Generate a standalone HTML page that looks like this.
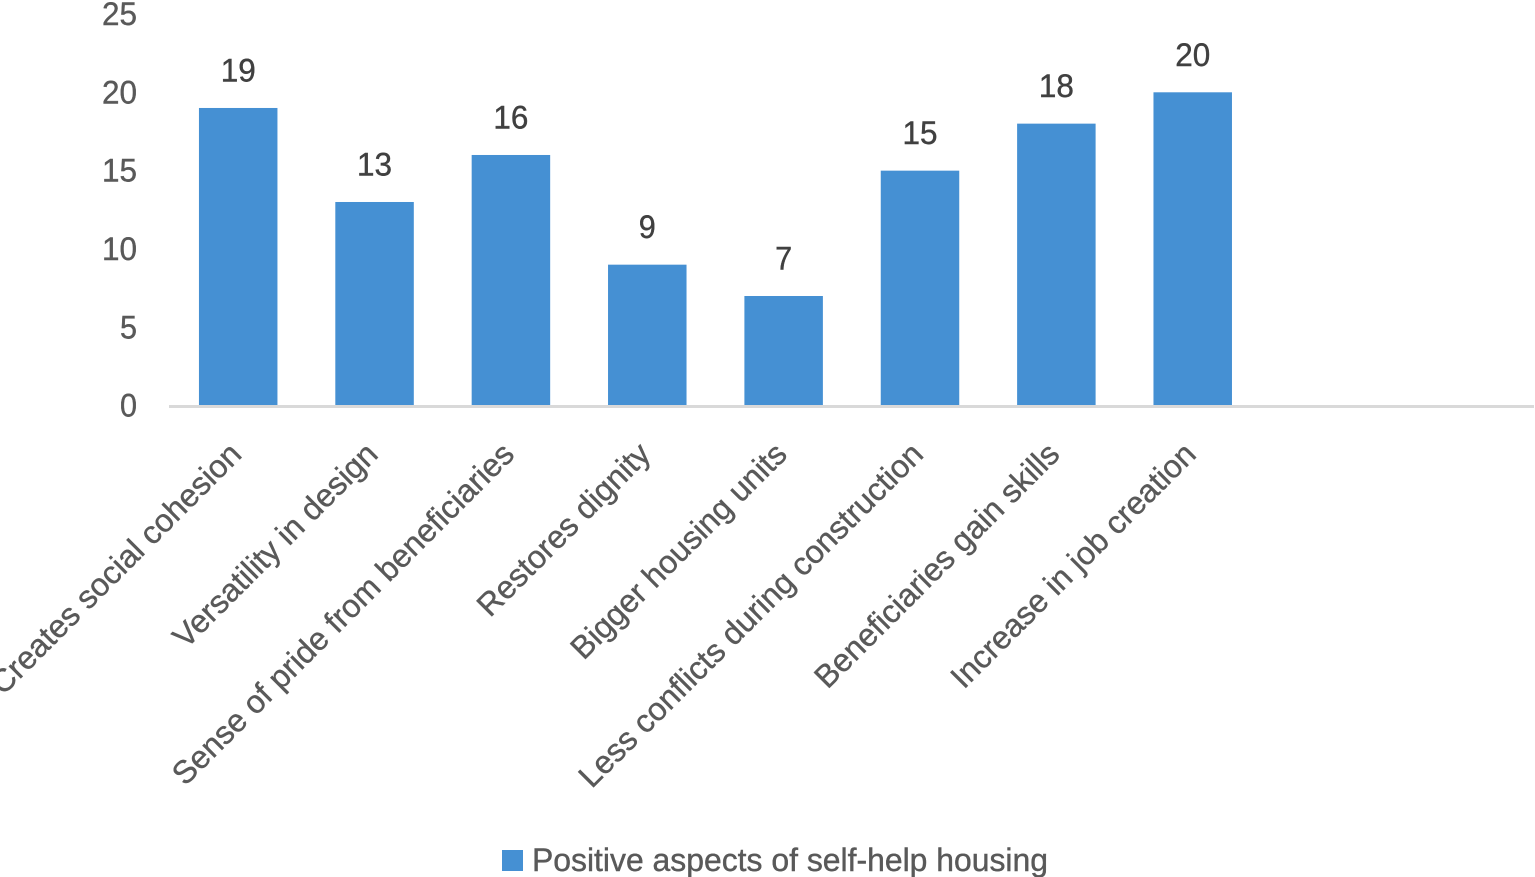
<!DOCTYPE html>
<html lang="en">
<head>
<meta charset="utf-8">
<title>Positive aspects of self-help housing</title>
<style>
html,body{margin:0;padding:0;background:#fff;}
svg{display:block;font-family:"Liberation Sans",sans-serif;}
text{stroke-width:0.4;}
</style>
</head>
<body>
<svg id="chart" xmlns="http://www.w3.org/2000/svg" width="1535" height="877" viewBox="0 0 1535 877"></svg>
<script>
const categories = ["Creates social cohesion","Versatility in design","Sense of pride from beneficiaries","Restores dignity","Bigger housing units","Less conflicts during construction","Beneficiaries gain skills","Increase in job creation"];
const seriesValues = [19,13,16,9,7,15,18,20];
const yTickLabels = [0,5,10,15,20,25];
const seriesName = "Positive aspects of self-help housing";

const NS = "http://www.w3.org/2000/svg";
const svg = document.getElementById("chart");
const plotLeft = 169, plotRight = 1534;
const slot = 136.36, firstCenter = 238.2;
const y0 = 405.7, unit = 15.67;
const barWidth = 78.5;
const xScale = i => firstCenter + slot * i;
const yScale = v => y0 - v * unit;

function make(tag, attrs, text) {
  const el = document.createElementNS(NS, tag);
  for (const k in attrs) el.setAttribute(k, attrs[k]);
  if (text !== undefined) el.textContent = text;
  svg.appendChild(el);
  return el;
}

yTickLabels.forEach(t => {
  const el = make("text", {x: 137, y: yScale(t) + 11, "text-anchor": "end", "font-size": 32, fill: "#595959", stroke: "#595959", textLength: String(t).length > 1 ? 35 : 17, lengthAdjust: "spacingAndGlyphs"}, t);
  
  
});

seriesValues.forEach((v, i) => {
  const bar = make("rect", {x: xScale(i) - barWidth / 2, y: yScale(v), width: barWidth, height: y0 - yScale(v), fill: "#4590d3"});
  
  

  const value = make("text", {x: xScale(i), y: yScale(v) - 26.5, "text-anchor": "middle", "font-size": 32, fill: "#404040", stroke: "#404040", textLength: String(v).length > 1 ? 35 : 17, lengthAdjust: "spacingAndGlyphs"}, v);
  
  

  const lx = xScale(i) + 5, ly = 456;
  const label = make("text", {transform: `translate(${lx} ${ly}) rotate(-45)`, "text-anchor": "end", "font-size": 32, fill: "#595959", stroke: "#595959"}, categories[i]);
  
  
});

const axis = make("line", {x1: plotLeft, x2: plotRight, y1: 406.5, y2: 406.5, stroke: "#d9d9d9", "stroke-width": 3});



const swatch = make("rect", {x: 502, y: 850, width: 21, height: 21, fill: "#4590d3"});



const legendText = make("text", {x: 532, y: 871, "font-size": 32, fill: "#595959", stroke: "#595959", textLength: 516, lengthAdjust: "spacingAndGlyphs"}, seriesName);


</script>
</body>
</html>
